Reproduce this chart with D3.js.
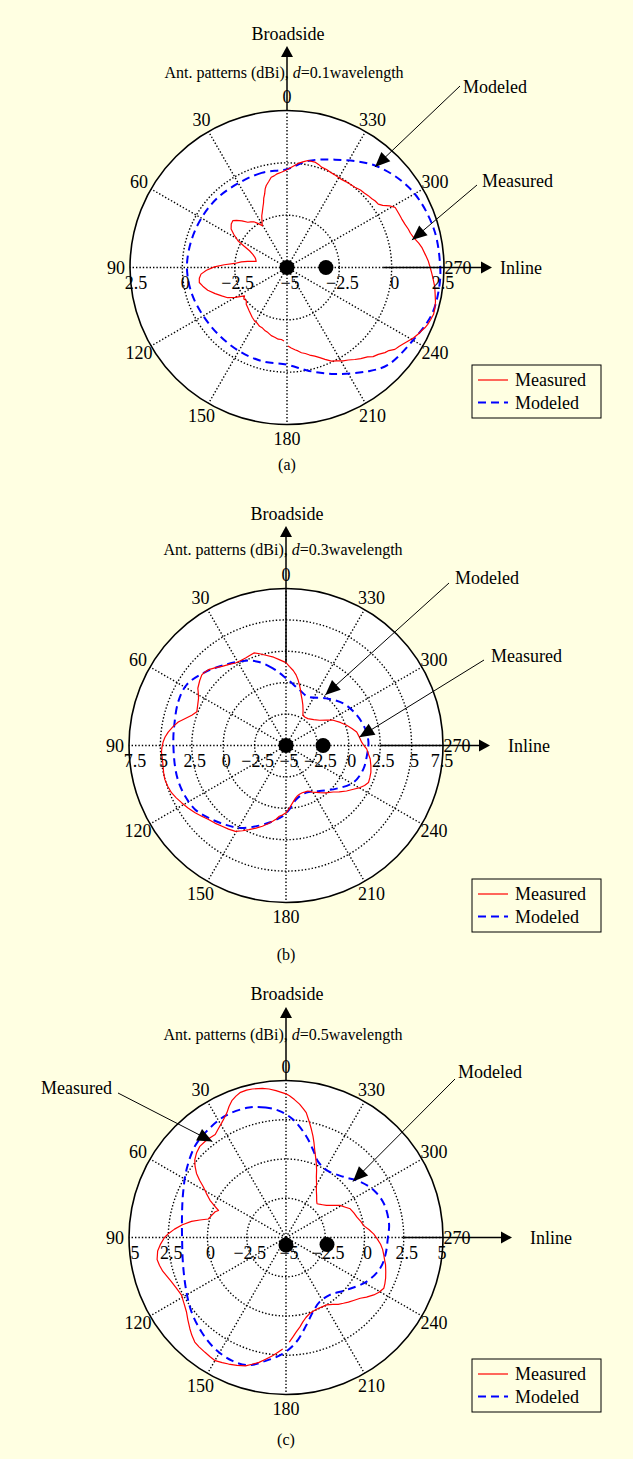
<!DOCTYPE html>
<html>
<head>
<meta charset="utf-8">
<script src="https://cdn.jsdelivr.net/npm/d3@7"></script>
<style>
  html, body { margin: 0; padding: 0; background: #ffffe2; }
  svg { display: block; }
  text { font-family: "Liberation Serif", "Times New Roman", serif; fill: #000; }
</style>
</head>
<body>
<svg id="chart" width="633" height="1459"></svg>
<script>
// ---- angle ticks (degrees, counter-clockwise from broadside) ----
const angleTicks = [0, 30, 60, 90, 120, 150, 180, 210, 240, 270, 300, 330];

// ---- radial ticks (dBi) per panel ----
const ringTicksA = [-5, -2.5, 0, 2.5];
const ringTicksB = [-5, -2.5, 0, 2.5, 5, 7.5];
const ringTicksC = [-5, -2.5, 0, 2.5, 5];

// ---- patterns: [angle (deg), gain (dBi)] ----
const modeledA = [[0,-0.3],[15,-0.32],[30,-0.35],[45,-0.3],[60,-0.28],[75,-0.25],[90,-0.22],[105,-0.28],[120,-0.38],[135,-0.42],[150,-0.4],[165,-0.37],[180,-0.36],[192,0.05],[204,0.57],[218,1.29],[226,1.7],[240,1.95],[252,2.27],[262,2.33],[270,2.32],[285,2.25],[302,2.0],[319,1.44],[336,0.64],[349,0.18]];

const measuredA = [[0,-0.33],[3.4,-0.44],[6,-0.5],[8,-0.58],[9.9,-0.62],[12,-0.8],[14.2,-0.96],[15.5,-1.1],[16.9,-1.33],[18.5,-1.5],[20,-1.72],[21.8,-1.9],[24,-2.1],[26,-2.25],[28,-2.45],[30.6,-2.68],[33,-2.5],[36,-2.3],[38.5,-2.22],[40.9,-2.14],[44,-1.9],[47,-1.7],[49.2,-1.58],[52,-1.62],[55.5,-1.76],[58,-2.0],[61.4,-2.33],[63.5,-2.7],[65.9,-3.04],[69,-3.25],[72,-3.38],[75,-3.45],[78.9,-3.5],[81,-3.1],[83,-2.8],[85.6,-2.49],[87.5,-2.0],[89.5,-1.53],[92,-1.15],[94.4,-0.88],[97,-0.78],[99.7,-0.75],[102.5,-0.88],[106,-1.06],[110,-1.35],[113.5,-1.6],[117,-1.82],[120,-2.15],[123.8,-2.56],[126,-2.45],[129,-2.5],[132,-2.38],[135.7,-2.32],[139,-2.25],[142,-2.18],[145,-2.1],[148.8,-2.01],[152,-1.98],[155,-1.9],[158,-1.88],[161,-1.8],[163.7,-1.76],[167,-1.66],[170,-1.62],[173,-1.55],[175.5,-1.55],[177.7,-1.49],
  [180.7,-1.25],[183,-1.15],[185.5,-1.05],[187.5,-0.98],[189.6,-0.87],[192,-0.8],[194.5,-0.68],[197.4,-0.56],[200,-0.42],[202.5,-0.25],[205.4,-0.05],[208,0.05],[211,0.2],[213.5,0.3],[216.4,0.46],[219,0.6],[222,0.75],[224,0.92],[226.4,1.02],[229,1.2],[230.8,1.28],[232.8,1.47],[235,1.55],[236.8,1.65],[238.8,1.77],[241,1.92],[243,2.02],[244.8,2.1],[246.4,2.19],[248,2.25],[250,2.3],[252.3,2.35],[254.5,2.33],[257,2.28],[259.8,2.19],[262.5,2.12],[265,2.02],[267.5,1.93],[270,1.84],[272.5,1.76],[275,1.65],[278.5,1.51],[280.5,1.4],[283.4,1.21],[285.5,1.12],[287.5,1.08],[290.2,1.0],[293,0.95],[295.5,0.93],[299,0.91],[301,0.72],[303,0.45],[304.8,0.31],[307,0.28],[309,0.22],[311.5,0.18],[314,0.13],[316.5,0.1],[319.8,0.02],[322,0.0],[325,-0.02],[328,-0.05],[330.5,-0.04],[333,-0.02],[335.5,0.0],[338,0.05],[341,0.07],[343,0.15],[345.2,0.21],[348.9,0.21],[351,0.12],[353.5,0.02],[355.5,-0.1],[357.5,-0.21]];

const modeledB = [[0,0.36],[9.9,1.26],[17.9,1.99],[25.5,2.48],[36.9,3.04],[47.7,3.69],[58.6,4.27],[67.9,4.26],[79.8,4.04],[87.4,3.98],[100.3,3.99],[108.2,4.03],[116.6,3.99],[125.1,3.85],[133.1,3.44],[142.5,2.94],[151.1,2.5],[161.4,1.73],[170,1.13],[177.3,0.63],[183,0.1],[190.6,-0.63],[203.2,-0.92],[216.5,-0.5],[229.5,0.29],[241.2,1.12],[253,1.44],[262.9,1.49],[272.3,1.57],[282,1.44],[293.2,1.13],[306.3,0.66],[319.4,-0.06],[335.9,-0.74],[346.4,-0.44]];

const measuredB = [[0,1.6],[4.5,1.86],[8,2.1],[12.6,2.36],[16,2.6],[19.1,2.8],[22,2.72],[24.8,2.67],[28,2.66],[31.5,2.7],[35,2.88],[38.9,3.1],[42,3.35],[45.6,3.63],[48,3.72],[50,3.75],[53,3.6],[57,3.37],[59.5,3.1],[61.7,2.91],[65,2.75],[69.3,2.59],[72.2,2.88],[75,3.3],[77.7,3.78],[80.5,4.12],[83.5,4.44],[86,4.65],[88.4,4.79],[91,4.88],[93.1,4.93],[96,4.9],[99.3,4.92],[102.5,4.98],[105.5,5.02],[109,4.96],[112.4,4.86],[115.5,4.68],[118.7,4.48],[122.5,4.25],[126.5,4.0],[130,3.76],[133.7,3.53],[137.5,3.38],[141.6,3.2],[145.5,3.08],[149.5,2.94],[153,2.62],[156.3,2.32],[160,2.0],[163.7,1.7],[167,1.4],[170,1.13],[172.5,0.9],[174.6,0.66],[177,0.55],[180,0.36],[183.5,-0.05],[186.7,-0.42],[190,-0.72],[193,-0.9],[195.4,-0.97],[199,-1.02],[202.5,-1.0],[205.7,-0.98],[210,-0.72],[215.5,-0.39],[220,-0.08],[225.4,0.27],[229,0.62],[233.1,1.03],[237,1.4],[240.4,1.78],[243,2.02],[245.8,2.2],[249,2.15],[252.4,2.09],[256.5,1.95],[260.9,1.79],[264,1.6],[267.6,1.43],[270,1.2],[272.5,1.03],[276.5,0.88],[280.8,0.73],[284.5,0.42],[288.4,0.09],[293,-0.3],[298.2,-0.74],[302,-1.2],[306.9,-1.65],[313,-1.98],[320.9,-2.24],[326,-2.28],[330.9,-2.24],[334,-1.9],[337.4,-1.51],[340.5,-1.15],[343.3,-0.8],[345.5,-0.4],[347.5,-0.06],[349.5,0.3],[351.9,0.68],[354.5,1.0],[357.6,1.31]];

const modeledC = [[3.1,3.08],[8.9,3.38],[15.9,3.61],[26.6,3.66],[36.7,3.45],[45,3.21],[55.9,2.66],[66.9,2.13],[79,1.75],[90,1.62],[104.7,1.78],[118.5,2.22],[128.2,2.66],[138.2,3.07],[147.5,3.41],[156.3,3.57],[163.8,3.47],[170.7,2.96],[178.3,2.42],[185.5,1.7],[193,0.74],[200,0.03],[207.8,-0.38],[217.4,-0.4],[229.3,0.11],[241.6,0.87],[252.2,1.32],[260.4,1.43],[270,1.49],[277.5,1.62],[289,1.6],[298.3,1.35],[306.9,0.91],[316.6,0.32],[329,0.01],[337.1,0.25],[342.9,0.85],[348.7,1.58],[356.7,2.54]];

const measuredC = [[0,4.15],[3.9,4.38],[6.5,4.52],[9,4.62],[12.8,4.7],[15,4.72],[17.4,4.69],[19.5,4.55],[21.6,4.37],[23.5,4.1],[25.3,3.8],[27,3.6],[29.2,3.38],[32,3.15],[34.5,2.96],[37.3,2.98],[40,3.0],[43.4,2.99],[46.5,2.85],[49.6,2.63],[52,2.35],[54.4,2.01],[56.5,1.6],[58.5,1.18],[61,0.8],[63.9,0.39],[66,0.0],[68.2,-0.37],[70,-0.2],[72.5,-0.1],[76.6,0.09],[78.5,0.6],[80.3,1.11],[83,1.65],[85.7,2.12],[88,2.48],[90,2.74],[93,3.0],[96,3.22],[99.7,3.33],[102.5,3.25],[105.3,3.14],[108,2.98],[110.9,2.83],[114.5,2.7],[118.7,2.6],[122.5,2.72],[126.7,2.91],[130,3.16],[133.5,3.44],[136,3.64],[138.9,3.84],[141.5,3.9],[144.8,3.95],[147.5,4.0],[150.1,4.05],[153,3.95],[155.6,3.85],[159,3.72],[162.5,3.57],[165,3.36],[167.8,3.14],[170.5,2.86],[173.5,2.58],[176,2.32],[178.3,2.1],
  [181.8,1.67],[184,1.35],[186.1,1.06],[189,0.75],[191.3,0.48],[194,0.25],[197.3,0.07],[200.5,0.0],[204.3,-0.04],[207.5,-0.02],[211,0.01],[215,0.2],[218,0.4],[221.1,0.56],[224,0.72],[227,0.88],[230.7,1.11],[233.5,1.38],[236.8,1.68],[239.5,1.88],[242.6,2.02],[245,1.95],[247.9,1.85],[251,1.72],[254.8,1.57],[257,1.45],[259.8,1.33],[263,1.2],[265.9,1.04],[269,0.82],[272.2,0.6],[275.5,0.3],[278.7,0.0],[282,-0.12],[286,-0.3],[290,-0.4],[294.1,-0.52],[297,-0.75],[300.7,-1.0],[304,-1.35],[308.4,-1.71],[312,-1.88],[315,-2.0],[317.4,-2.08],[320,-1.96],[323.5,-1.72],[327.3,-1.42],[330.5,-1.05],[333.4,-0.68],[335.5,-0.3],[337.8,0.11],[340,0.5],[341.9,0.88],[343.5,1.28],[345.1,1.68],[346.8,2.08],[348.4,2.46],[350.8,3.06],[352.5,3.3],[354.2,3.54],[356.5,3.8],[358.6,4.03]];

// ---- antenna element positions [angle, dBi-radius] ----
const elementsA = [[0, -5], [270, -3.14]];
const elementsB = [[0, -5], [270, -2.05]];
const elementsC = [[180, -4.52], [260.3, -2.35]];

const seriesNames = ["Measured", "Modeled"];
const spacingLabels = ["0.1", "0.3", "0.5"];
const captions = ["(a)", "(b)", "(c)"];

// ---- panel layout ----
const R = 157;
const panels = [
  { cx: 287, cy: 267.5, rMax: 2.5, rings: ringTicksA, measured: measuredA, modeled: modeledA, elements: elementsA, gap: true,
    broadEnd: 2.5, inlineFrom: -0.4, inlineTip: 492, inlineText: 500,
    yBroad: 40, yArrow: 46, yTitle: 78, yZero: 104, yCap: 470, legendY: 365,
    notes: [
      { name: "Modeled",  tip: [318.8, 1.38], from: [460, 86], text: [463, 93], anchor: "start" },
      { name: "Measured", tip: [282.4, 1.11], from: [477, 185], text: [482, 187], anchor: "start" } ] },
  { cx: 286, cy: 745.5, rMax: 7.5, rings: ringTicksB, measured: measuredB, modeled: modeledB, elements: elementsB, gap: false,
    broadEnd: 1.6, inlineFrom: 2.5, inlineTip: 490, inlineText: 508,
    yBroad: 520, yArrow: 526, yTitle: 555, yZero: 581, yCap: 960, legendY: 879,
    notes: [
      { name: "Modeled",  tip: [322.2, 0.1], from: [449, 583], text: [455, 584], anchor: "start" },
      { name: "Measured", tip: [276.5, 0.87], from: [484, 660], text: [491, 662], anchor: "start" } ] },
  { cx: 286, cy: 1237.5, rMax: 5, rings: ringTicksC, measured: measuredC, modeled: modeledC, elements: elementsC, gap: true,
    broadEnd: 5, inlineFrom: 2.5, inlineTip: 512, inlineText: 530,
    yBroad: 1000, yArrow: 1007, yTitle: 1040, yZero: 1071, yCap: 1445, legendY: 1359,
    notes: [
      { name: "Measured", tip: [37.5, 2.7], from: [118, 1093], text: [112, 1094], anchor: "end" },
      { name: "Modeled",  tip: [309.9, 0.56], from: [455, 1079], text: [458, 1078], anchor: "start" } ] }
];

const svg = d3.select("#chart");
const FONT = 18;
const DOTS = "1.4,2";

function tickText(v) { return v < 0 ? "\u2212" + Math.abs(v) : String(v); }

function arrowHead(sel, tip, from, len, hw) {
  const dx = tip[0] - from[0], dy = tip[1] - from[1];
  const L = Math.hypot(dx, dy), ux = dx / L, uy = dy / L;
  const bx = tip[0] - ux * len, by = tip[1] - uy * len;
  const pts = [tip, [bx - uy * hw, by + ux * hw], [bx + uy * hw, by - ux * hw]];
  sel.append("path").attr("d", "M" + pts.map(p => p.join(",")).join("L") + "Z").attr("fill", "#000");
}

panels.forEach((p, pi) => {
  const r = d3.scaleLinear().domain([-5, p.rMax]).range([0, R]);
  const rad = deg => deg * Math.PI / 180;
  const toXY = (deg, v) => [p.cx - r(v) * Math.sin(rad(deg)), p.cy - r(v) * Math.cos(rad(deg))];
  const g = svg.append("g");
  const plot = g.append("g").attr("transform", `translate(${p.cx},${p.cy})`);

  // plot disc
  plot.append("circle").attr("r", R).attr("fill", "#fff");

  // dotted rings
  plot.selectAll("circle.ring")
    .data(p.rings.filter(v => v > -5 && v < p.rMax))
    .join("circle").attr("class", "ring")
    .attr("r", d => r(d)).attr("fill", "none")
    .attr("stroke", "#000").attr("stroke-width", 1.4).attr("stroke-dasharray", DOTS);

  // dotted spokes
  plot.selectAll("line.spoke").data(angleTicks).join("line").attr("class", "spoke")
    .attr("x1", 0).attr("y1", 0)
    .attr("x2", d => -R * Math.sin(rad(d))).attr("y2", d => -R * Math.cos(rad(d)))
    .attr("stroke", "#000").attr("stroke-width", 1.4).attr("stroke-dasharray", DOTS);

  // outer circle
  plot.append("circle").attr("r", R).attr("fill", "none").attr("stroke", "#000").attr("stroke-width", 1.6);

  // angle labels
  g.selectAll("text.ang").data(angleTicks).join("text").attr("class", "ang")
    .attr("x", d => p.cx - (R + 14) * Math.sin(rad(d)))
    .attr("y", d => p.cy - (R + 14) * Math.cos(rad(d)))
    .attr("dy", "0.35em").attr("text-anchor", "middle").attr("font-size", FONT)
    .text(d => d);

  // radial labels along the inline axis, mirrored on both sides
  const radial = [];
  p.rings.forEach(v => {
    if (v === -5) radial.push({ v, x: p.cx + 3 });
    else if (v === p.rMax) { radial.push({ v, x: p.cx - R + 6 }); radial.push({ v, x: p.cx + R - 1 }); }
    else { radial.push({ v, x: p.cx - r(v) + 3 }); radial.push({ v, x: p.cx + r(v) + 3 }); }
  });
  g.selectAll("text.rad").data(radial).join("text").attr("class", "rad")
    .attr("x", d => d.x).attr("y", p.cy + 21)
    .attr("text-anchor", "middle").attr("font-size", FONT)
    .text(d => tickText(d.v));

  // modeled pattern
  const lineM = d3.lineRadial().angle(d => -rad(d[0])).radius(d => r(d[1])).curve(d3.curveCatmullRomClosed.alpha(0.5));
  plot.append("path").attr("d", lineM(p.modeled)).attr("fill", "none")
    .attr("stroke", "#0000ff").attr("stroke-width", 2).attr("stroke-dasharray", "8,5");

  // measured pattern (sweep starts just past 180 deg)
  const i0 = p.measured.findIndex(d => d[0] > 180);
  let seq = p.measured.slice(i0).concat(p.measured.slice(0, i0));
  if (!p.gap) seq = seq.concat([seq[0]]);
  const lineS = d3.lineRadial().angle(d => -rad(d[0])).radius(d => r(d[1]));
  plot.append("path").attr("d", lineS(seq)).attr("fill", "none")
    .attr("stroke", "#ff0000").attr("stroke-width", 1.2).attr("stroke-linejoin", "round");

  // antenna elements
  g.selectAll("circle.el").data(p.elements).join("circle").attr("class", "el")
    .attr("cx", d => toXY(d[0], d[1])[0]).attr("cy", d => toXY(d[0], d[1])[1])
    .attr("r", 7.5).attr("fill", "#000");

  // broadside arrow
  const bEnd = toXY(0, p.broadEnd);
  g.append("line").attr("x1", p.cx).attr("x2", p.cx).attr("y1", p.yArrow + 8).attr("y2", bEnd[1])
    .attr("stroke", "#000").attr("stroke-width", 1.5);
  arrowHead(g, [p.cx, p.yArrow], [p.cx, p.yArrow + 20], 11, 6);
  g.append("text").attr("x", p.cx + 1).attr("y", p.yBroad).attr("text-anchor", "middle")
    .attr("font-size", FONT).text("Broadside");

  // title
  const t = g.append("text").attr("x", p.cx - 3).attr("y", p.yTitle).attr("text-anchor", "middle").attr("font-size", 16);
  t.append("tspan").text("Ant. patterns (dBi), ");
  t.append("tspan").attr("font-style", "italic").text("d");
  t.append("tspan").text("=" + spacingLabels[pi] + "wavelength");

  // inline arrow
  const iStart = toXY(270, p.inlineFrom);
  g.append("line").attr("x1", iStart[0]).attr("x2", p.inlineTip - 8).attr("y1", p.cy).attr("y2", p.cy)
    .attr("stroke", "#000").attr("stroke-width", 1.5);
  arrowHead(g, [p.inlineTip, p.cy], [p.inlineTip - 20, p.cy], 11, 6);
  g.append("text").attr("x", p.inlineText).attr("y", p.cy).attr("dy", "0.35em")
    .attr("font-size", FONT).text("Inline");

  // call-out arrows
  p.notes.forEach(n => {
    const tip = toXY(n.tip[0], n.tip[1]);
    g.append("line").attr("x1", n.from[0]).attr("y1", n.from[1]).attr("x2", tip[0]).attr("y2", tip[1])
      .attr("stroke", "#000").attr("stroke-width", 1);
    arrowHead(g, tip, n.from, 15, 6.5);
    g.append("text").attr("x", n.text[0]).attr("y", n.text[1]).attr("text-anchor", n.anchor)
      .attr("font-size", FONT).text(n.name);
  });

  // legend
  const lg = g.append("g").attr("transform", `translate(472,${p.legendY})`);
  lg.append("rect").attr("width", 129).attr("height", 53).attr("fill", "none").attr("stroke", "#000").attr("stroke-width", 1);
  seriesNames.forEach((s, k) => {
    const y = 15 + k * 22.5;
    lg.append("line").attr("x1", 6).attr("x2", 36).attr("y1", y).attr("y2", y)
      .attr("stroke", k === 0 ? "#ff0000" : "#0000ff").attr("stroke-width", k === 0 ? 1.2 : 2)
      .attr("stroke-dasharray", k === 0 ? null : "8,5");
    lg.append("text").attr("x", 43).attr("y", y).attr("dy", "0.35em").attr("font-size", FONT).text(s);
  });

  // caption
  g.append("text").attr("x", p.cx).attr("y", p.yCap).attr("text-anchor", "middle").attr("font-size", 16).text(captions[pi]);
});
</script>
</body>
</html>
